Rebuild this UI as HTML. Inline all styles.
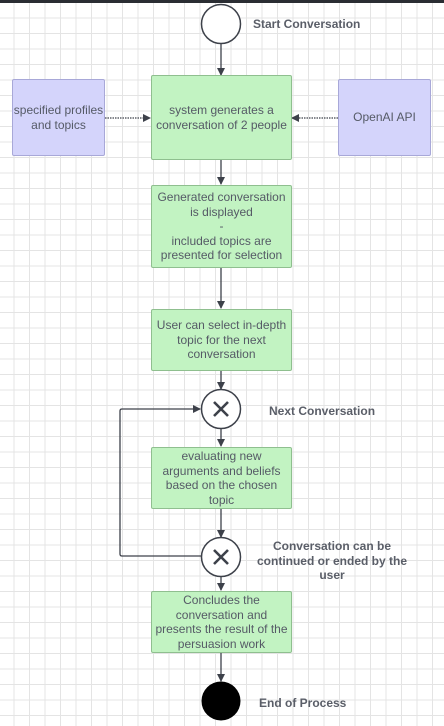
<!DOCTYPE html>
<html><head><style>
body{margin:0;width:444px;height:726px;overflow:hidden;background:#fff;font-family:"Liberation Sans",sans-serif}
.bg{position:absolute;left:0;top:0;width:444px;height:726px;
background-image:linear-gradient(#e4e4e4 1px,transparent 1px),linear-gradient(90deg,#e4e4e4 1px,transparent 1px);
background-size:15.5px 15.5px;background-position:-2px 2px}
.top{position:absolute;left:0;top:0;width:444px;height:3px;background:#2a2d33}
.b{position:absolute;box-sizing:border-box;border:1px solid #8fbf8f;background:#c2f3c2;border-radius:2px;color:#555a66;font-size:12px;line-height:14.5px;text-align:center;display:flex;align-items:center;justify-content:center}
.p{background:#d4d4fb;border-color:#a8a8d8}
.l{position:absolute;font-weight:bold;color:#5a5e68;font-size:12px;text-align:center}
svg{position:absolute;left:0;top:0}
</style></head><body>
<div class="bg"></div><div class="top"></div>
<svg width="444" height="726">
<defs><marker id="a" markerWidth="8" markerHeight="8" refX="7" refY="4" orient="auto" markerUnits="userSpaceOnUse"><path d="M0,0L8,4L0,8z" fill="#3d414a"/></marker></defs>
<g stroke="#3d414a" stroke-width="1.3" fill="none">
<line x1="221" y1="44" x2="221" y2="75" marker-end="url(#a)"/>
<line x1="221" y1="160" x2="221" y2="184" marker-end="url(#a)"/>
<line x1="221" y1="268" x2="221" y2="308" marker-end="url(#a)"/>
<line x1="221" y1="371" x2="221" y2="389" marker-end="url(#a)"/>
<line x1="221" y1="429" x2="221" y2="446" marker-end="url(#a)"/>
<line x1="221" y1="509" x2="221" y2="537" marker-end="url(#a)"/>
<line x1="221" y1="577" x2="221" y2="590" marker-end="url(#a)"/>
<line x1="221" y1="653" x2="221" y2="681" marker-end="url(#a)"/>
<path d="M201,556H122Q120,556 120,554V411Q120,409 122,409H200" marker-end="url(#a)"/>
<line x1="105" y1="118" x2="150" y2="118" stroke-dasharray="1.5 1" marker-end="url(#a)"/>
<line x1="338" y1="118" x2="292" y2="118" stroke-dasharray="1.5 1" marker-end="url(#a)"/>
<circle cx="221" cy="24" r="19.5" fill="#fff" stroke-width="1.5"/>
<circle cx="221" cy="409" r="19.5" fill="#fff" stroke-width="1.5"/>
<circle cx="221" cy="557" r="19.5" fill="#fff" stroke-width="1.5"/>
<path d="M214,402L228,416M228,402L214,416M214,550L228,564M228,550L214,564" stroke-width="2.6"/>
</g>
<circle cx="221" cy="701" r="19.5" fill="#000"/>
</svg>
<div class="b p" style="left:12px;top:79px;width:93px;height:77px">specified profiles<br>and topics</div>
<div class="b p" style="left:338px;top:79px;width:93px;height:77px">OpenAI API</div>
<div class="b" style="left:151px;top:75px;width:141px;height:85px">system generates a<br>conversation of 2 people</div>
<div class="b" style="left:151px;top:185px;width:141px;height:83px">Generated conversation<br>is displayed<br>-<br>included topics are<br>presented for selection</div>
<div class="b" style="left:151px;top:309px;width:141px;height:62px">User can select in-depth<br>topic for the next<br>conversation</div>
<div class="b" style="left:151px;top:447px;width:141px;height:62px">evaluating new<br>arguments and beliefs<br>based on the chosen<br>topic</div>
<div class="b" style="left:151px;top:591px;width:141px;height:62px">Concludes the<br>conversation and<br>presents the result of the<br>persuasion work</div>
<div class="l" style="left:253px;top:17px">Start Conversation</div>
<div class="l" style="left:269px;top:404px">Next Conversation</div>
<div class="l" style="left:252px;top:539px;width:160px;line-height:14.5px">Conversation can be<br>continued or ended by the<br>user</div>
<div class="l" style="left:259px;top:696px">End of Process</div>
</body></html>
